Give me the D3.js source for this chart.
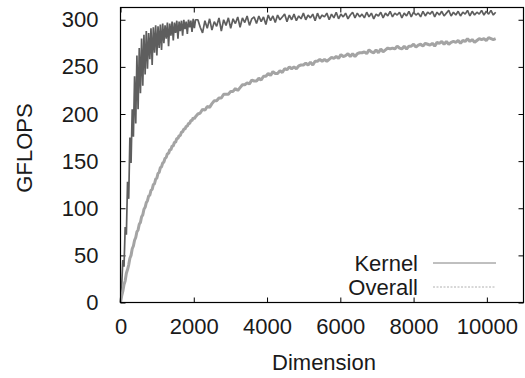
<!DOCTYPE html>
<html>
<head>
<meta charset="utf-8">
<script src="https://cdn.jsdelivr.net/npm/d3@7"></script>
<style>
  html, body { margin: 0; padding: 0; background: #fff; }
  svg { display: block; font-family: "Liberation Sans", Arial, sans-serif; }
</style>
</head>
<body>
<div id="chart"></div>
<script>
// matrix dimension (x) for each sample: step 32 up to 2048, then step 64
const dims = [
  0,32,64,96,128,160,192,224,256,288,320,352,384,416,448,480,
  512,544,576,608,640,672,704,736,768,800,832,864,896,928,960,992,
  1024,1056,1088,1120,1152,1184,1216,1248,1280,1312,1344,1376,1408,1440,1472,1504,
  1536,1568,1600,1632,1664,1696,1728,1760,1792,1824,1856,1888,1920,1952,1984,2016,
  2048,
  2112,2176,2240,2304,2368,2432,2496,2560,2624,2688,2752,2816,2880,2944,3008,
  3072,3136,3200,3264,3328,3392,3456,3520,3584,3648,3712,3776,3840,3904,3968,4032,
  4096,4160,4224,4288,4352,4416,4480,4544,4608,4672,4736,4800,4864,4928,4992,5056,
  5120,5184,5248,5312,5376,5440,5504,5568,5632,5696,5760,5824,5888,5952,6016,6080,
  6144,6208,6272,6336,6400,6464,6528,6592,6656,6720,6784,6848,6912,6976,7040,7104,
  7168,7232,7296,7360,7424,7488,7552,7616,7680,7744,7808,7872,7936,8000,8064,8128,
  8192,8256,8320,8384,8448,8512,8576,8640,8704,8768,8832,8896,8960,9024,9088,9152,
  9216,9280,9344,9408,9472,9536,9600,9664,9728,9792,9856,9920,9984,10048,10112,10176,
  10240
];

// GFLOPS of the kernel alone
const kernel = [
  0,18,45,38,80,72,128,110,175,148,205,176,240,190,262,205,
  270,222,280,230,284,242,288,248,286,258,291,252,292,265,294,262,
  293,270,295,268,296,275,294,280,297,272,296,283,298,278,297,286,
  299,280,298,288,299,283,300,290,298,285,300,292,299,287,301,291,
  300,
  300,292,286,299,291,301,289,298,293,302,288,300,294,302,291,
  301,296,303,292,302,297,304,294,301,303,296,304,298,303,295,305,
  299,304,297,305,300,303,306,298,305,300,306,299,304,301,307,300,
  305,302,306,299,307,301,305,303,307,300,306,302,308,301,306,303,
  307,301,305,308,302,307,303,306,302,308,303,307,301,306,304,308,
  302,307,304,309,303,307,305,308,302,307,304,309,303,308,305,307,
  303,309,304,308,306,309,303,308,305,309,304,307,310,304,308,305,
  309,304,308,306,310,304,309,305,308,306,310,305,309,306,310,305,
  308
];

// GFLOPS overall (including transfers)
const overall = [
  0,7,12,19,23,31,35,40,47,50,57,60,66,69,75,77,
  83,85,91,93,99,101,106,108,113,114,119,120,125,126,131,132,
  137,138,143,144,148,149,153,154,158,158,162,162,166,166,170,170,
  174,174,177,177,181,181,184,184,187,187,190,190,193,193,196,195,
  197,
  200,201,205,204,208,207,211,214,214,217,217,221,221,221,224,
  224,227,225,228,231,231,233,232,236,235,235,238,236,240,240,243,
  241,245,243,243,246,244,248,247,250,248,250,248,251,252,252,254,
  252,255,252,256,256,258,256,258,256,258,260,259,261,259,263,261,
  262,264,261,264,261,264,265,265,266,264,268,266,265,268,265,269,
  266,268,270,269,270,269,272,270,269,272,269,272,272,274,271,273,
  274,272,275,274,273,275,272,276,275,277,274,277,274,276,277,276,
  278,275,278,277,280,277,279,276,278,280,279,280,278,281,280,279,
  280
];

const xTicks = [0, 2000, 4000, 6000, 8000, 10000];
const yTicks = [0, 50, 100, 150, 200, 250, 300];
const seriesNames = ["Kernel", "Overall"];

const W = 525, H = 378;
const margin = {top: 7.5, right: 1.5, bottom: 75.5, left: 120.5};
const width = W - margin.left - margin.right;
const height = H - margin.top - margin.bottom;
const fontSize = 22;

const svg = d3.select("#chart").append("svg")
    .attr("width", W)
    .attr("height", H);

const g = svg.append("g")
    .attr("transform", "translate(" + margin.left + "," + margin.top + ")");

const x = d3.scaleLinear().domain([0, 11000]).range([0, width]);
const y = d3.scaleLinear().domain([0, 313]).range([height, 0]);

// axes (ticks point inward, mirrored on top / right like gnuplot)
function styleAxis(sel) {
  sel.select(".domain").remove();
  sel.selectAll(".tick line").attr("stroke", "#000").attr("stroke-width", 1);
  sel.selectAll(".tick text")
     .attr("fill", "#1a1a1a")
     .style("font-size", fontSize + "px")
     .style("font-family", "'Liberation Sans', Arial, sans-serif");
}

g.append("g")
    .attr("transform", "translate(0," + height + ")")
    .call(d3.axisBottom(x).tickValues(xTicks).tickSizeInner(-5).tickSizeOuter(0).tickPadding(16).tickFormat(d3.format("d")))
    .call(styleAxis);

g.append("g")
    .call(d3.axisTop(x).tickValues(xTicks).tickSizeInner(-5).tickSizeOuter(0).tickFormat(""))
    .call(styleAxis);

g.append("g")
    .call(d3.axisLeft(y).tickValues(yTicks).tickSizeInner(-5).tickSizeOuter(0).tickPadding(22))
    .call(styleAxis);

g.append("g")
    .attr("transform", "translate(" + width + ",0)")
    .call(d3.axisRight(y).tickValues(yTicks).tickSizeInner(-5).tickSizeOuter(0).tickFormat(""))
    .call(styleAxis);

// axis titles
svg.append("text")
    .attr("x", 324)
    .attr("y", 370)
    .attr("text-anchor", "middle")
    .attr("fill", "#1a1a1a")
    .style("font-size", fontSize + "px")
    .text("Dimension");

svg.append("text")
    .attr("transform", "translate(32,148) rotate(-90)")
    .attr("text-anchor", "middle")
    .attr("fill", "#1a1a1a")
    .style("font-size", fontSize + "px")
    .text("GFLOPS");

// data lines
const line = d3.line()
    .x((d, i) => x(dims[i]))
    .y(d => y(d))
    .curve(d3.curveLinear);

g.append("path")
    .datum(kernel)
    .attr("fill", "none")
    .attr("stroke", "#5e5e5e")
    .attr("stroke-width", 1.7)
    .attr("stroke-linejoin", "bevel")
    .attr("d", line);

g.append("path")
    .datum(overall)
    .attr("fill", "none")
    .attr("stroke", "#a4a4a4")
    .attr("stroke-width", 3)
    .attr("stroke-linejoin", "bevel")
    .attr("d", line);

// legend
const legend = svg.append("g");
const legendY = [263, 287];
const legendStroke = ["#808080", "#b0b0b0"];
const legendDash = [null, "2,1.5"];

seriesNames.forEach((name, i) => {
  legend.append("text")
      .attr("x", 418)
      .attr("y", legendY[i])
      .attr("dy", "0.35em")
      .attr("text-anchor", "end")
      .attr("fill", "#1a1a1a")
      .style("font-size", fontSize + "px")
      .text(name);
  legend.append("line")
      .attr("x1", 433).attr("x2", 496)
      .attr("y1", legendY[i]).attr("y2", legendY[i])
      .attr("stroke", legendStroke[i])
      .attr("stroke-width", 1)
      .attr("stroke-dasharray", legendDash[i]);
});

// border
g.append("rect")
    .attr("x", 0).attr("y", 0)
    .attr("width", width).attr("height", height)
    .attr("fill", "none")
    .attr("stroke", "#000")
    .attr("stroke-width", 1.2);
</script>
</body>
</html>
